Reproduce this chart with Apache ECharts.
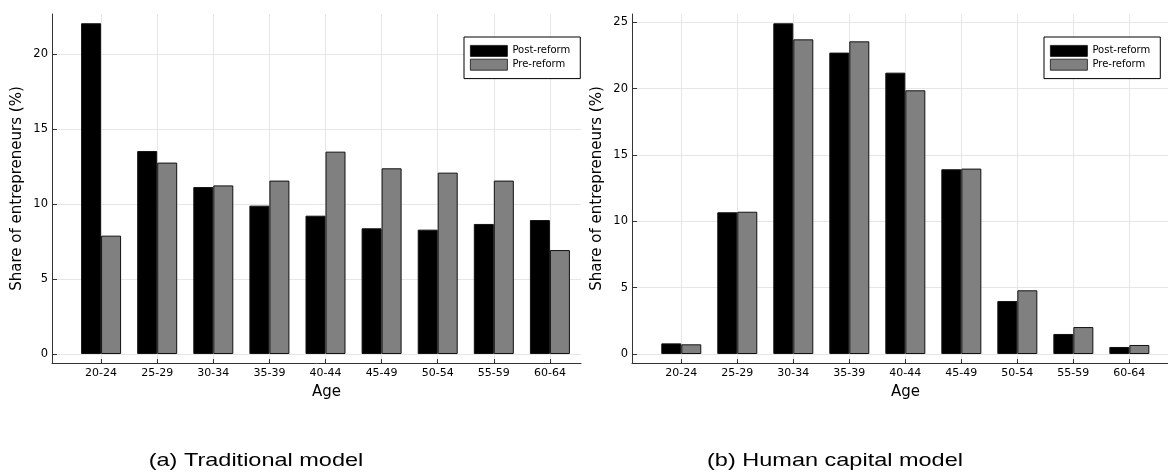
<!DOCTYPE html>
<html>
<head>
<meta charset="utf-8">
<script src="https://cdn.jsdelivr.net/npm/echarts@6/dist/echarts.min.js"></script>
<style>
html,body{margin:0;padding:0;background:#fff;}
#chart{width:1168px;height:473px;}
</style>
</head>
<body>
<div id="chart"></div>
<script>
const categories = ['20-24','25-29','30-34','35-39','40-44','45-49','50-54','55-59','60-64'];
const tradPost = [22.05, 13.53, 11.13, 9.89, 9.22, 8.38, 8.29, 8.67, 8.93];
const tradPre  = [7.89, 12.76, 11.24, 11.56, 13.49, 12.38, 12.09, 11.56, 6.93];
const hcPost   = [0.80, 10.68, 24.92, 22.71, 21.20, 13.92, 3.99, 1.51, 0.53];
const hcPre    = [0.73, 10.72, 23.71, 23.56, 19.87, 13.97, 4.80, 2.03, 0.68];
const yTicksTrad = [0, 5, 10, 15, 20];
const yTicksHC   = [0, 5, 10, 15, 20, 25];
const seriesNames = ['Post-reform', 'Pre-reform'];
const captions = ['(a) Traditional model', '(b) Human capital model'];

const FONT = 'DejaVu Sans';
const positions = categories.map((c, i) => i + 1);
const toPts = arr => arr.map((v, i) => [positions[i], v]);

function xAxisCfg(gridIndex, min, max, namePadLeft) {
  return {
    type: 'value', gridIndex, min, max,
    name: 'Age', nameLocation: 'middle', nameGap: 22,
    nameTextStyle: { fontFamily: FONT, fontSize: 15, color: '#000', padding: [0, 0, 0, namePadLeft] },
    axisLine: { show: true, onZero: false, lineStyle: { color: '#333', width: 1 } },
    axisTick: { show: true, inside: true, length: 4, customValues: positions, lineStyle: { color: '#333' } },
    axisLabel: { customValues: positions, formatter: v => categories[Math.round(v) - 1] || '',
      fontFamily: FONT, fontSize: 11, color: '#000', margin: 5 },
    splitLine: { show: true, lineStyle: { color: '#e6e6e6', width: 1 } }
  };
}
function yAxisCfg(gridIndex, min, max, ticks) {
  return {
    type: 'value', gridIndex, min, max,
    name: 'Share of entrepreneurs (%)', nameLocation: 'middle', nameGap: 27,
    nameTextStyle: { fontFamily: FONT, fontSize: 15, color: '#000' },
    axisLine: { show: true, onZero: false, lineStyle: { color: '#333', width: 1 } },
    axisTick: { show: true, inside: true, length: 5, customValues: ticks, lineStyle: { color: '#333' } },
    axisLabel: { customValues: ticks, fontFamily: FONT, fontSize: 11.5, color: '#000', margin: 4 },
    splitLine: { show: true, lineStyle: { color: '#e6e6e6', width: 1 } }
  };
}
function barSeries(name, data, idx, color) {
  return {
    type: 'bar', name, xAxisIndex: idx, yAxisIndex: idx,
    data: toPts(data), barWidth: 20, barGap: '0%',
    itemStyle: { color, borderColor: '#111', borderWidth: 1 },
    emphasis: { disabled: true }
  };
}
function legendCfg(left) {
  return {
    left, top: 37, orient: 'vertical', itemWidth: 37, itemHeight: 11, itemGap: 2,
    padding: [8, 10, 8, 6], borderColor: '#000', borderWidth: 1, borderRadius: 0,
    backgroundColor: '#fff', icon: 'rect',
    itemStyle: { borderWidth: 0.8 },
    textStyle: { fontFamily: FONT, fontSize: 10, color: '#000' },
    data: seriesNames
  };
}

const chart = echarts.init(document.getElementById('chart'), null, { renderer: 'canvas' });
chart.setOption({
  animation: false,
  backgroundColor: '#fff',
  grid: [
    { left: 52, top: 14, width: 529, height: 349 },
    { left: 632, top: 14, width: 536, height: 349 }
  ],
  xAxis: [ xAxisCfg(0, 0.125, 9.554, 20), xAxisCfg(1, 0.12, 9.69, 11) ],
  yAxis: [ yAxisCfg(0, -0.6, 22.667, yTicksTrad), yAxisCfg(1, -0.678, 25.62, yTicksHC) ],
  legend: [ legendCfg(464), legendCfg(1044) ],
  series: [
    barSeries(seriesNames[0], tradPost, 0, '#000000'),
    barSeries(seriesNames[1], tradPre, 0, '#808080'),
    barSeries(seriesNames[0], hcPost, 1, '#000000'),
    barSeries(seriesNames[1], hcPre, 1, '#808080')
  ],
  graphic: [
    { type: 'text', x: 256, y: 461, scaleX: 1.27,
      style: { text: captions[0], fontFamily: 'Liberation Sans', fontSize: 18.5, fill: '#000', align: 'center', verticalAlign: 'middle' } },
    { type: 'text', x: 835, y: 461, scaleX: 1.27,
      style: { text: captions[1], fontFamily: 'Liberation Sans', fontSize: 18.5, fill: '#000', align: 'center', verticalAlign: 'middle' } }
  ]
});
</script>
</body>
</html>
